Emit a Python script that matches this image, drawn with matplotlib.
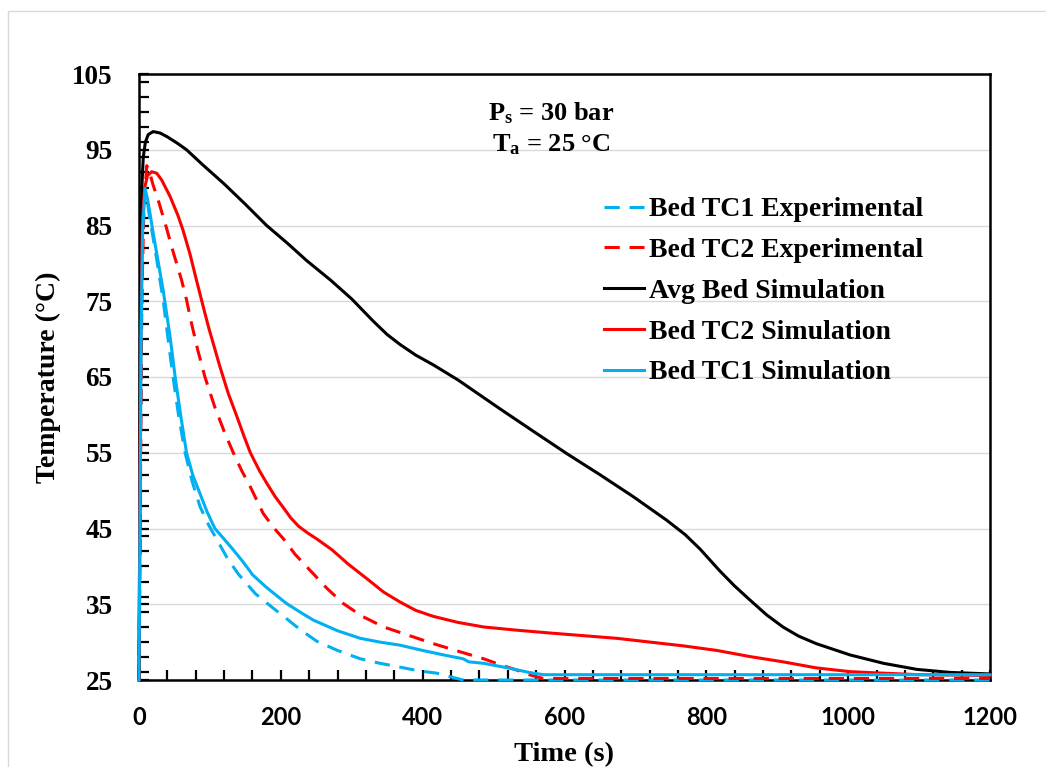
import matplotlib
matplotlib.use("Agg")
import matplotlib.pyplot as plt
from matplotlib.patches import Rectangle
from matplotlib.ticker import MultipleLocator

matplotlib.rcParams['mathtext.fontset'] = 'custom'
matplotlib.rcParams['mathtext.rm'] = 'Liberation Serif:bold'
matplotlib.rcParams['mathtext.bf'] = 'Liberation Serif:bold'

serif = "Liberation Serif"
blue = "#00B0F0"
red = "#FF0000"

# Bed TC1 Experimental
t_tc1_exp = [0, 1, 3, 5, 8, 12, 15, 20, 25, 34, 41, 48, 56, 65, 75, 86, 98, 110, 125, 140,
             164, 185, 204, 228, 251, 280, 312, 340, 368, 395, 420, 440, 457, 1200]
T_tc1_exp = [25, 40, 70, 83, 89.5, 88.0, 86.0, 83.3, 80.5, 75.2, 70.0, 65.0, 59.8, 55.0, 51.2,
             47.9, 45.5, 43.5, 41.0, 39.0, 36.4, 34.8, 33.4, 31.6, 30.1, 28.9, 27.8, 27.2,
             26.7, 26.2, 25.9, 25.4, 25.0, 25.0]

# Bed TC2 Experimental
t_tc2_exp = [0, 2, 4, 7, 11, 15, 20, 26, 32, 39, 46, 53, 60, 67, 74, 83, 93, 107, 121, 133,
             145, 157, 175, 190, 204, 220, 241, 265, 288, 315, 345, 380, 415, 450, 486, 510,
             533, 550, 570, 1200]
T_tc2_exp = [25, 50, 75, 88, 92.9, 92.0, 90.3, 88.7, 86.8, 84.6, 82.2, 80.0, 77.8, 75.2, 72.1,
             68.5, 65.0, 61.0, 57.6, 55.0, 52.6, 50.5, 47.0, 45.1, 43.6, 41.6, 39.5, 37.1,
             35.1, 33.4, 32.0, 30.9, 29.8, 28.8, 27.8, 27.0, 26.3, 25.7, 25.2, 25.2]

# Avg Bed Simulation
t_avg = [0, 1, 2, 3, 4, 6, 9, 13, 20, 30, 40, 55, 67, 90, 120, 150, 180, 210, 236, 270, 300,
         330, 350, 368, 390, 415, 450, 509, 555, 603, 650, 697, 744, 770, 791, 819, 840, 861,
         885, 908, 930, 955, 1003, 1050, 1097, 1144, 1200]
T_avg = [25, 45, 70, 84, 90, 94, 96, 97, 97.4, 97.2, 96.7, 95.8, 95.0, 93.0, 90.5, 87.8, 85.0,
         82.6, 80.4, 77.8, 75.3, 72.4, 70.6, 69.3, 67.9, 66.6, 64.6, 60.8, 57.9, 54.9, 52.1,
         49.2, 46.1, 44.2, 42.3, 39.4, 37.4, 35.6, 33.6, 32.0, 30.8, 29.8, 28.3, 27.2, 26.4,
         26.0, 25.8]

# Bed TC2 Simulation
t_tc2_sim = [0, 1, 3, 5, 8, 12, 18, 25, 32, 44, 55, 62, 72, 81, 90, 98, 114, 126, 138, 148,
             157, 170, 180, 192, 204, 214, 225, 238, 251, 272, 295, 321, 345, 368, 390, 415,
             450, 486, 530, 580, 674, 768, 815, 861, 908, 955, 1003, 1050, 1100, 1200]
T_tc2_sim = [25, 45, 75, 86, 90, 91.6, 92.1, 91.9, 91.0, 88.8, 86.3, 84.4, 81.2, 77.8, 74.5,
             71.6, 66.4, 62.8, 59.8, 57.2, 55.0, 52.6, 51.0, 49.2, 47.7, 46.4, 45.3, 44.4,
             43.6, 42.2, 40.3, 38.4, 36.6, 35.3, 34.2, 33.4, 32.6, 32.0, 31.6, 31.2, 30.5,
             29.5, 28.9, 28.1, 27.4, 26.6, 26.1, 25.9, 25.7, 25.6]

# Bed TC1 Simulation
t_tc1_sim = [0, 1, 3, 5, 8.5, 12, 15.5, 20, 25, 34, 44, 51, 59, 67, 76, 86, 96, 107, 120, 131,
             145, 157, 160, 180, 208, 230, 246, 280, 312, 340, 368, 400, 430, 457, 465, 486,
             520, 550, 570, 1200]
T_tc1_sim = [25, 40, 70, 84, 89.9, 88.5, 86.6, 84.0, 81.3, 76.5, 70.2, 65.0, 59.8, 55.0, 52.0,
             49.6, 47.2, 45.0, 43.6, 42.4, 40.8, 39.3, 38.9, 37.2, 35.1, 33.8, 32.9, 31.5,
             30.5, 30.0, 29.6, 28.9, 28.3, 27.8, 27.4, 27.2, 26.6, 26.0, 25.7, 25.7]

labels = ["Bed TC1 Experimental", "Bed TC2 Experimental", "Avg Bed Simulation",
          "Bed TC2 Simulation", "Bed TC1 Simulation"]

fig = plt.figure(figsize=(10.46, 7.67), dpi=100)
ax = fig.add_axes([139 / 1046, 1 - 680 / 767, 851 / 1046, 606 / 767])

lw = 2.2
dash = (0, (5, 3.2))
series = [
    (t_tc1_exp, T_tc1_exp, blue, dash),
    (t_tc2_exp, T_tc2_exp, red, dash),
    (t_avg, T_avg, "black", "-"),
    (t_tc2_sim, T_tc2_sim, red, "-"),
    (t_tc1_sim, T_tc1_sim, blue, "-"),
]
for (t, T, c, ls), lab in zip(series, labels):
    ax.plot(t, T, color=c, linestyle=ls, linewidth=lw, label=lab,
            clip_on=False, zorder=3, solid_joinstyle="round")

ax.set_xlim(0, 1200)
ax.set_ylim(25, 105)
ax.set_xticks(range(0, 1201, 200))
ax.set_yticks(range(25, 106, 10))
ax.xaxis.set_minor_locator(MultipleLocator(40))
ax.yaxis.set_minor_locator(MultipleLocator(2))
ax.tick_params(which="both", direction="in", length=7, width=1.6, color="black")
ax.tick_params(axis="y", pad=19)
ax.tick_params(axis="x", pad=19)
for lab in ax.get_yticklabels():
    lab.set_fontfamily(serif)
    lab.set_fontweight("bold")
    lab.set_fontsize(19.5)
for lab in ax.get_xticklabels():
    lab.set_fontfamily("Lato")
    lab.set_fontweight("bold")
    lab.set_fontsize(17)

ax.grid(axis="y", which="major", color="#D9D9D9", linewidth=1.0, zorder=0)
ax.set_axisbelow(True)
for sp in ax.spines.values():
    sp.set_linewidth(1.8)
    sp.set_color("black")

ax.set_xlabel("Time (s)", fontfamily=serif, fontweight="bold", fontsize=20.5, va="top")
ax.xaxis.set_label_coords(0.5, -0.103)
ax.set_ylabel("Temperature (°C)", fontfamily=serif, fontweight="bold", fontsize=20, va="center")
ax.yaxis.set_label_coords(-0.107, 0.5)

fig.text(551 / 1046, 1 - 113 / 767, r"$\mathrm{P_s}$ = 30 bar", ha="center", va="center",
         fontfamily=serif, fontweight="bold", fontsize=19)
fig.text(551 / 1046, 1 - 145 / 767, r"$\mathrm{T_a}$ = 25 °C", ha="center", va="center",
         fontfamily=serif, fontweight="bold", fontsize=19)

leg = fig.legend(loc="upper left", bbox_to_anchor=(604 / 1046, 1 - 197 / 767),
                 frameon=False, borderpad=0, borderaxespad=0,
                 handlelength=1.45, handletextpad=0.18, labelspacing=0.55,
                 prop={"family": serif, "weight": "bold", "size": 20})

fig.patches.append(Rectangle((8 / 1046, -0.05), 1.1, 1.05 - 11 / 767,
                             transform=fig.transFigure, fill=False,
                             edgecolor="#D9D9D9", linewidth=1.0))

fig.savefig("out.png", dpi=100)
